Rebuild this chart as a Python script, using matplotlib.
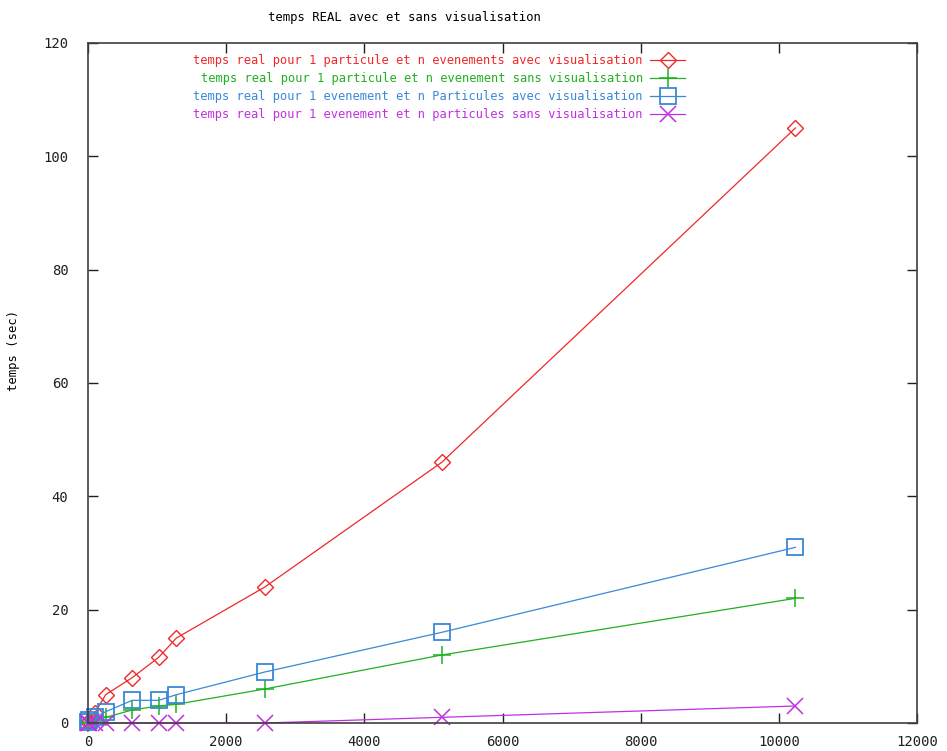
import matplotlib
matplotlib.use("Agg")
import matplotlib.pyplot as plt

# nombre d'evenements / particules
n = [1, 10, 100, 256, 640, 1024, 1280, 2560, 5120, 10240]

# temps real (sec)
evt_avec = [0.1, 0.4, 1.8, 5, 8, 11.6, 15, 24, 46, 105]
evt_sans = [0, 0.1, 0.4, 1, 2.3, 3, 3.3, 6, 12, 22]
part_avec = [0.1, 0.5, 1, 2, 4, 4, 5, 9, 16, 31]
part_sans = [0, 0, 0, 0, 0, 0, 0, 0, 1, 3]

labels = [
    "temps real pour 1 particule et n evenements avec visualisation",
    "temps real pour 1 particule et n evenement sans visualisation",
    "temps real pour 1 evenement et n Particules avec visualisation",
    "temps real pour 1 evenement et n particules sans visualisation",
]

plt.rcParams['font.family'] = 'DejaVu Sans Mono'

fig = plt.figure(figsize=(9.47, 7.51), dpi=100)
ax = fig.add_axes([88/947, 1 - 723/751, (917-88)/947, (723-43)/751])

ax.plot(n, evt_avec, color='#f02828', lw=0.9, marker='D', ms=8, mfc='none', mew=1.0,
        label=labels[0], clip_on=False)
ax.plot(n, evt_sans, color='#20b020', lw=0.9, marker='+', ms=13, mew=1.1,
        label=labels[1], clip_on=False)
ax.plot(n, part_avec, color='#3a88d8', lw=0.9, marker='s', ms=11, mfc='none', mew=1.3,
        label=labels[2], clip_on=False)
ax.plot(n, part_sans, color='#c030e0', lw=0.9, marker='x', ms=12, mew=1.1,
        label=labels[3], clip_on=False)

ax.set_xlim(0, 12000)
ax.set_ylim(0, 120)
ax.set_xticks(range(0, 12001, 2000))
ax.set_yticks(range(0, 121, 20))
ax.tick_params(direction='in', length=7, width=1, top=True, right=True,
               labelsize=10, colors='#202020')
ax.tick_params(axis='x', pad=9)
ax.tick_params(axis='y', pad=14)
for s in ax.spines.values():
    s.set_color('#404040')
    s.set_linewidth(1.2)

fig.text(404/947, 1 - 17/751, "temps REAL avec et sans visualisation",
         ha='center', va='center', fontsize=8.8)
fig.text(14/947, 1 - 350/751, "temps (sec)", rotation=90,
         ha='center', va='center', fontsize=8.8)

leg = ax.legend(loc='upper right', bbox_to_anchor=(685/947, 1 - 54/751),
                bbox_transform=fig.transFigure, frameon=False,
                markerfirst=False, labelcolor='linecolor', fontsize=8.65,
                handlelength=2.9, handletextpad=0.6, borderpad=0,
                borderaxespad=0, labelspacing=0.42)

fig.savefig("out.png", dpi=100)
